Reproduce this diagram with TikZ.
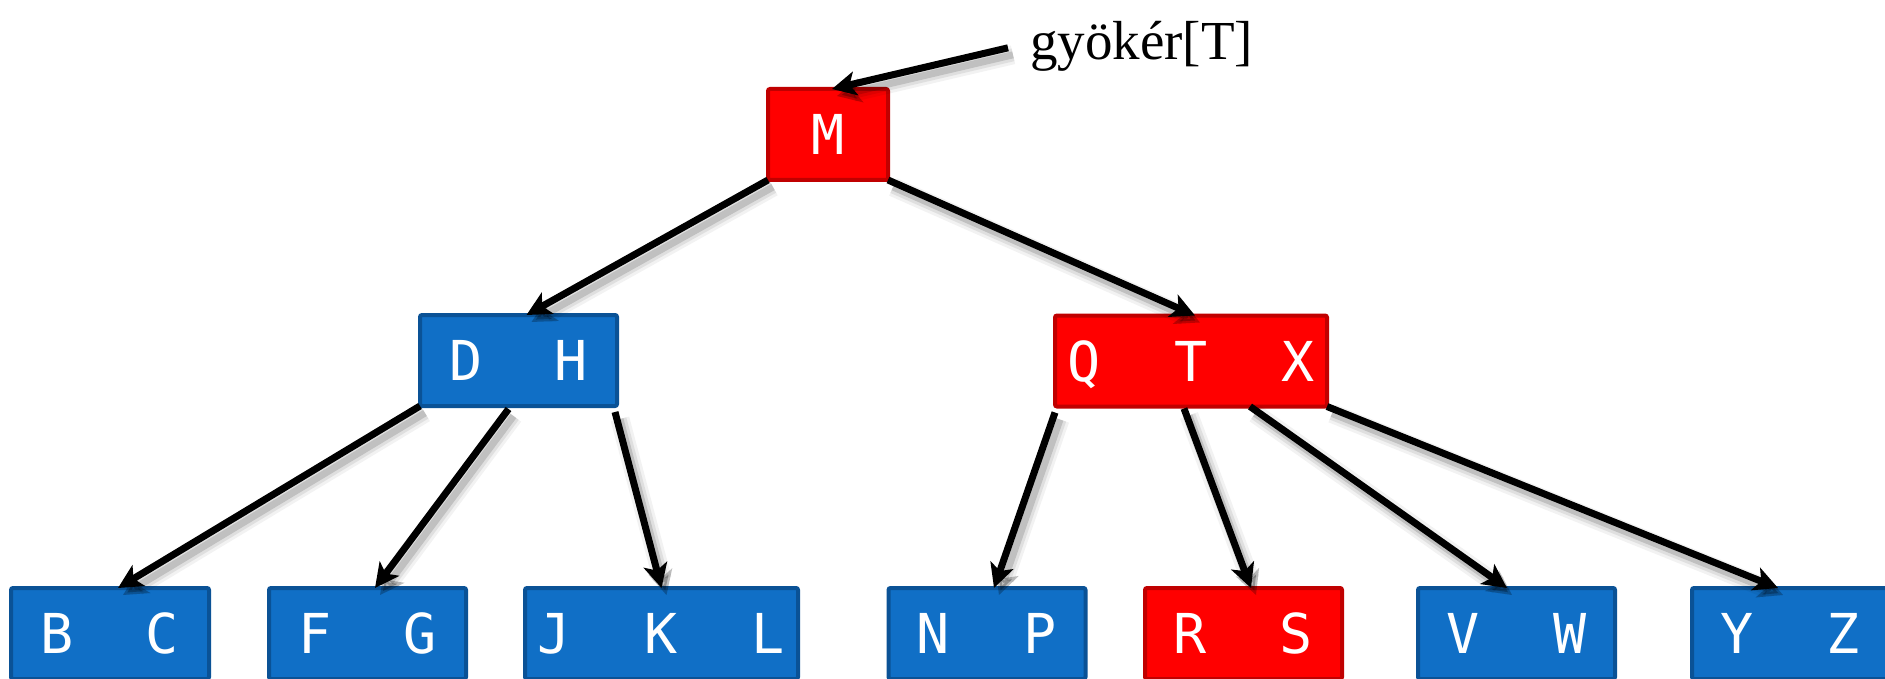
\documentclass[tikz,border=0pt]{standalone}
\usepackage{fontspec}
\setmainfont{Liberation Serif}
\newfontfamily\keyfont{DejaVu Sans Mono}
\usetikzlibrary{arrows.meta,calc}

\definecolor{nodeblue}{RGB}{16,111,198}
\definecolor{nodeblueedge}{RGB}{10,82,150}
\definecolor{nodered}{RGB}{255,0,0}
\definecolor{noderededge}{RGB}{192,0,0}

% one key, centred in a slot of the given pitch
\newcommand\keyslot[2]{\makebox[#1]{#2}}

\tikzset{
  btree/.style={rectangle, rounded corners=2pt, line width=4pt, outer sep=0pt,
    inner sep=0pt, minimum height=91pt, text=white,
    font=\keyfont\fontsize{55}{60}\selectfont, text height=40pt, text depth=0pt},
  bnode/.style={btree, fill=nodeblue, draw=nodeblueedge},
  rnode/.style={btree, fill=nodered, draw=noderededge},
  % soft drop shadow built from three translucent strokes
  link/.style={line width=7pt, -{Stealth[length=24pt,width=24pt,inset=6pt]},
    preaction={draw=black, opacity=0.05, line width=19pt,
      transform canvas={xshift=5pt,yshift=-7pt}},
    preaction={draw=black, opacity=0.08, line width=13pt,
      transform canvas={xshift=5pt,yshift=-7pt}},
    preaction={draw=black, opacity=0.14, line width=7pt,
      transform canvas={xshift=5pt,yshift=-7pt}}},
}

\begin{document}
\begin{tikzpicture}[x=1pt, y=-1pt]
\useasboundingbox (0,0) rectangle (1885,679);
\clip (0,0) rectangle (1885,679);

% root level
\node[rnode, minimum width=120pt] (M) at (828,134.5) {M};

% second level
\node[bnode, minimum width=197pt] (DH) at (518.5,360.5)
  {\makebox[0pt]{\keyslot{105pt}{D}\keyslot{105pt}{H}}};
\node[rnode, minimum width=272pt] (QTX) at (1191,361)
  {\makebox[0pt]{\keyslot{107pt}{Q}\keyslot{107pt}{T}\keyslot{107pt}{X}}};

% leaves
\node[bnode, minimum width=198pt] (BC) at (110,633.5)
  {\makebox[0pt]{\keyslot{105pt}{B}\keyslot{105pt}{C}}};
\node[bnode, minimum width=197pt] (FG) at (367.5,633.5)
  {\makebox[0pt]{\keyslot{105pt}{F}\keyslot{105pt}{G}}};
\node[bnode, minimum width=273pt] (JKL) at (661.5,633.5)
  {\makebox[0pt]{\keyslot{107pt}{J}\keyslot{107pt}{K}\keyslot{107pt}{L}}};
\node[bnode, minimum width=197pt] (NP) at (987,633.5)
  {\makebox[0pt]{\keyslot{107pt}{N}\keyslot{107pt}{P}}};
\node[rnode, minimum width=197pt] (RS) at (1243.5,633.5)
  {\makebox[0pt]{\keyslot{106pt}{R}\keyslot{106pt}{S}}};
\node[bnode, minimum width=197pt] (VW) at (1516.5,633.5)
  {\makebox[0pt]{\keyslot{107pt}{V}\keyslot{107pt}{W}}};
\node[bnode, minimum width=197pt] (YZ) at (1790.5,633.5)
  {\makebox[0pt]{\keyslot{106pt}{Y}\keyslot{106pt}{Z}}};

% root pointer label
\node[anchor=base west, inner sep=0pt, font=\fontsize{55}{60}\selectfont]
  (root) at (1030,60) {gyökér[T]};

% connectors
\draw[link] ($(root.west)+(-22,1)$) -- ($(M.north)+(4,0)$);
\draw[link] (M.south west) -- ($(DH.north)+(8,0)$);
\draw[link] (M.south east) -- ($(QTX.north)+(4,0)$);

\draw[link] (DH.south west) -- ($(BC.north)+(8,0)$);
\draw[link] ($(DH.south)+(-10,3)$) -- ($(FG.north)+(7.5,0)$);
\draw[link] ($(DH.south east)+(-2,6)$) -- (JKL.north);

\draw[link] ($(QTX.south west)+(0,6)$) -- ($(NP.north)+(7,0)$);
\draw[link] ($(QTX.south)+(-7,2)$) -- ($(RS.north)+(7.5,0)$);
\draw[link] ($(QTX.south)+(59,0)$) -- ($(VW.north)+(-9.5,0)$);
\draw[link] (QTX.south east) -- ($(YZ.north)+(-12.5,0)$);
\end{tikzpicture}
\end{document}
